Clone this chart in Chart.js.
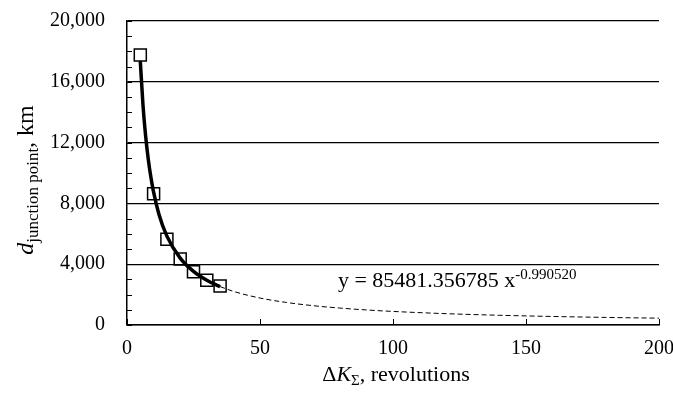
<!DOCTYPE html>
<html>
<head>
<meta charset="utf-8">
<script src="https://cdn.jsdelivr.net/npm/chart.js@4"></script>
<style>
html,body{margin:0;padding:0;background:#fff;}
#wrap{width:673px;height:398px;position:relative;}
</style>
</head>
<body>
<div id="wrap"><canvas id="c" width="673" height="398"></canvas></div>
<script>
// Measured points (revolutions vs distance, km)
const revolutions = [5, 10, 15, 20, 25, 30, 35];
const distanceKm = [17760, 8640, 5640, 4340, 3510, 2940, 2570];

// Power trendline shown on the chart: y = 85481.356785 x^-0.990520 (tabulated)
const trendSolidX = [5, 6, 7, 8, 9, 10, 12, 15, 20, 25, 30, 35];
const trendSolidY = [17360, 14491, 12439, 10898, 9698, 8737, 7293, 5847, 4397, 3525, 2943, 2526];
const trendDashX = [35, 40, 50, 60, 70, 80, 90, 100, 120, 140, 160, 180, 200];
const trendDashY = [2526, 2213, 1774, 1481, 1271, 1114, 991, 893, 745, 640, 561, 499, 449];

const xTicks = [0, 50, 100, 150, 200];
const yTicks = [0, 4000, 8000, 12000, 16000, 20000];
const yMinorStep = 1000;

const equationMain = 'y = 85481.356785 x';
const equationExp = '-0.990520';

const FONT = '"Liberation Serif", "Times New Roman", serif';

function pts(xs, ys){ return xs.map((x,i)=>({x:x, y:ys[i]})); }

const decor = {
  id: 'decor',
  afterDatasetsDraw(chart){
    const ctx = chart.ctx, xs = chart.scales.x, ys = chart.scales.y;
    const a = chart.chartArea;
    ctx.save();
    ctx.strokeStyle = '#000';
    ctx.lineWidth = 1;
    for (let v = ys.min; v <= ys.max; v += yMinorStep){
      const py = Math.round(ys.getPixelForValue(v)) + 0.5;
      ctx.beginPath(); ctx.moveTo(a.left, py); ctx.lineTo(a.left + 5, py); ctx.stroke();
    }
    xTicks.forEach(v=>{
      const px = Math.round(xs.getPixelForValue(v)) + 0.5;
      ctx.beginPath(); ctx.moveTo(px, a.bottom); ctx.lineTo(px, a.bottom - 6); ctx.stroke();
    });
    ctx.restore();
  },
  afterDraw(chart){
    const ctx = chart.ctx, xs = chart.scales.x, ys = chart.scales.y;
    ctx.save();
    ctx.fillStyle = '#000';
    ctx.textBaseline = 'alphabetic';
    ctx.textAlign = 'left';
    // Equation
    const eqX = xs.getPixelForValue(79.3), eqY = ys.getPixelForValue(2500);
    ctx.font = '22px ' + FONT;
    ctx.fillText(equationMain, eqX, eqY);
    const w1 = ctx.measureText(equationMain).width;
    ctx.font = '15px ' + FONT;
    ctx.fillText(equationExp, eqX + w1, eqY - 8);

    // X title
    const parts = [
      {t:'\u0394', f:'22px ' + FONT, dy:0},
      {t:'K', f:'italic 22px ' + FONT, dy:0},
      {t:'\u03A3', f:'15px ' + FONT, dy:4},
      {t:', revolutions', f:'22px ' + FONT, dy:0}
    ];
    let tw = 0;
    parts.forEach(p=>{ ctx.font = p.f; p.w = ctx.measureText(p.t).width; tw += p.w; });
    let cx = 396 - tw/2;
    const by = 381;
    parts.forEach(p=>{ ctx.font = p.f; ctx.fillText(p.t, cx, by + p.dy); cx += p.w; });

    // Y title
    const yparts = [
      {t:'d', f:'italic 24px ' + FONT, dy:0},
      {t:'junction point', f:'17px ' + FONT, dy:5},
      {t:', km', f:'24px ' + FONT, dy:0}
    ];
    let th = 0;
    yparts.forEach(p=>{ ctx.font = p.f; p.w = ctx.measureText(p.t).width; th += p.w; });
    ctx.translate(33, 180);
    ctx.rotate(-Math.PI/2);
    let cy = -th/2;
    yparts.forEach(p=>{ ctx.font = p.f; ctx.fillText(p.t, cy, p.dy); cy += p.w; });
    ctx.restore();
  }
};

function noPad(s){ s.paddingTop = 0; s.paddingBottom = 0; s.paddingLeft = 0; s.paddingRight = 0; }

new Chart(document.getElementById('c'), {
  type: 'scatter',
  data: {
    datasets: [
      {
        label: 'trend',
        data: pts(trendSolidX, trendSolidY),
        showLine: true,
        borderColor: '#000',
        borderWidth: 3.5,
        pointRadius: 0,
        cubicInterpolationMode: 'monotone',
        fill: false,
        order: 2
      },
      {
        label: 'trend extension',
        data: pts(trendDashX, trendDashY),
        showLine: true,
        borderColor: '#000',
        borderWidth: 1,
        borderDash: [5, 3],
        pointRadius: 0,
        cubicInterpolationMode: 'monotone',
        fill: false,
        order: 3
      },
      {
        label: 'data',
        data: pts(revolutions, distanceKm),
        showLine: false,
        pointStyle: 'rect',
        pointRadius: 8.5,
        pointBorderWidth: 1.5,
        pointBorderColor: '#000',
        pointBackgroundColor: 'rgba(0,0,0,0)',
        order: 1
      }
    ]
  },
  options: {
    responsive: false,
    animation: false,
    events: [],
    layout: { padding: { top: 21, right: 14, left: 0, bottom: 0 } },
    plugins: { legend: { display: false }, tooltip: { enabled: false } },
    scales: {
      x: {
        type: 'linear', min: 0, max: 200,
        afterBuildTicks(s){ s.ticks = xTicks.map(v=>({value:v})); },
        afterFit(s){ s.height = 73; noPad(s); },
        grid: { display: false, drawTicks: false },
        border: { display: true, color: '#000', width: 1.5 },
        ticks: { color: '#000', font: { family: FONT, size: 20 }, padding: 12, maxRotation: 0 }
      },
      y: {
        type: 'linear', min: 0, max: 20000,
        afterBuildTicks(s){ s.ticks = yTicks.map(v=>({value:v})); },
        afterFit(s){ s.width = 127; noPad(s); },
        grid: { color: '#000', lineWidth: 1.2, drawTicks: false },
        border: { display: true, color: '#000', width: 1.5 },
        ticks: {
          color: '#000', font: { family: FONT, size: 20 }, padding: 22,
          callback: v => v.toLocaleString('en-US')
        }
      }
    }
  },
  plugins: [decor]
});
</script>
</body>
</html>
